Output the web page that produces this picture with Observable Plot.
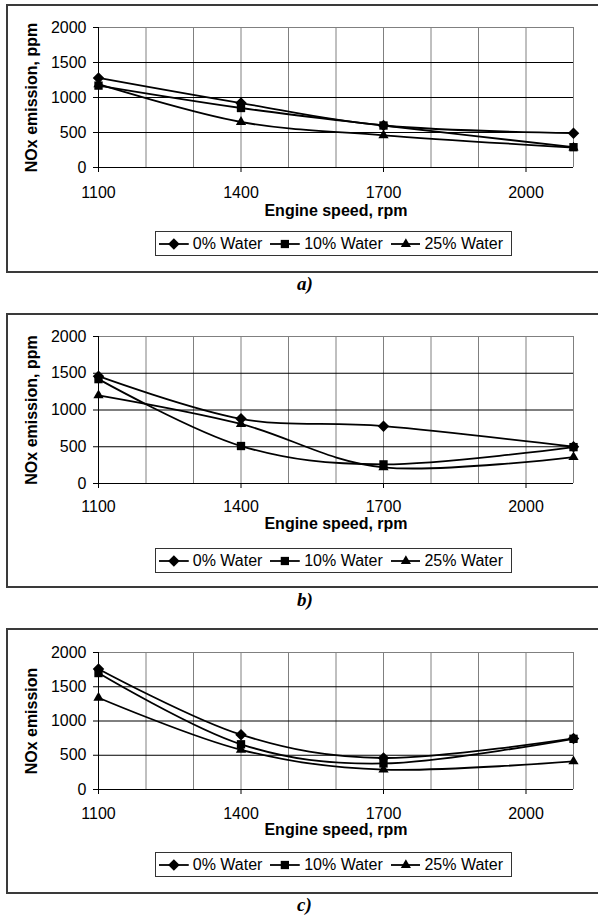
<!DOCTYPE html>
<html>
<head>
<meta charset="utf-8">
<script src="https://cdn.jsdelivr.net/npm/d3@7"></script>
<script src="https://cdn.jsdelivr.net/npm/@observablehq/plot@0.6"></script>
<style>
  body { margin: 0; background: #fff; }
  #root { position: relative; width: 598px; height: 916px; overflow: hidden; font-family: Arial, "Liberation Sans", sans-serif; color: #000; }
  .box { position: absolute; left: 6px; width: 640px; border: 2px solid #3a3a3a; box-sizing: border-box; }
  .chart { position: absolute; left: 0; }
  .legend { position: absolute; left: 155px; width: 357px; border: 1px solid #333; box-sizing: border-box; display: flex; align-items: center; font-size: 16px; padding-left: 3px; background: #fff; }
  .legend .key { width: 30px; height: 14px; display: block; }
  .legend .lab { margin-left: 4px; margin-right: 8px; white-space: nowrap; }
  .caption { position: absolute; left: 297px; font: bold italic 19px "Liberation Serif", "Times New Roman", serif; }
</style>
</head>
<body>
<div id="root"></div>
<script>
// ---------- data ----------
const speeds = [1100, 1400, 1700, 2100];
const seriesNames = ["0% Water", "10% Water", "25% Water"];
const xTicks = [1100, 1400, 1700, 2000];
const yTicks = [0, 500, 1000, 1500, 2000];
const xGrid = [1200, 1300, 1400, 1500, 1600, 1700, 1800, 1900, 2000, 2100];
const yGrid = [500, 1000, 1500];
const yTop = [2000];
const xTitle = "Engine speed, rpm";
const yTitles = ["NOx emission, ppm", "NOx emission, ppm", "NOx emission"];
const captions = ["a)", "b)", "c)"];

const a0 = [1280, 920, 600, 490];
const a10 = [1170, 850, 600, 290];
const a25 = [1190, 650, 460, 285];

const b0 = [1460, 880, 780, 500];
const b10 = [1420, 510, 260, 495];
const b25 = [1200, 810, 220, 360];

const c0 = [1760, 800, 460, 745];
const c10 = [1700, 660, 380, 740];
const c25 = [1340, 580, 290, 410];

// ---------- layout (page pixels) ----------
const layouts = [
  { boxTop: 4, boxBottom: 273, plotTop: 27, plotBottom: 167, tickPad: 14.5, titleDy: 48.5, legendTop: 231, legendH: 25, capTop: 273 },
  { boxTop: 313, boxBottom: 588, plotTop: 336, plotBottom: 483, tickPad: 12.5, titleDy: 45.5, legendTop: 548, legendH: 25, capTop: 589 },
  { boxTop: 628, boxBottom: 894, plotTop: 652, plotBottom: 789, tickPad: 13, titleDy: 45, legendTop: 852, legendH: 25, capTop: 894 }
];
const panelValues = [[a0, a10, a25], [b0, b10, b25], [c0, c10, c25]];

const symbols = [d3.symbolDiamond2, d3.symbolSquare, d3.symbolTriangle];
const radii = [5.2, 4.7, 3.8];

const root = document.getElementById("root");

function rows(vals) {
  const out = [];
  seriesNames.forEach((s, i) => speeds.forEach((sp, j) => out.push({ speed: sp, value: vals[i][j], series: s })));
  return out;
}

layouts.forEach((L, p) => {
  const box = document.createElement("div");
  box.className = "box";
  box.style.top = L.boxTop + "px";
  box.style.height = (L.boxBottom - L.boxTop) + "px";
  root.appendChild(box);

  const svgTop = L.boxTop + 2;
  const H = L.legendTop - 2 - svgTop;
  const data = rows(panelValues[p]);

  const marks = [
    Plot.ruleX(xGrid, { stroke: "#808080", strokeWidth: 1 }),
    Plot.ruleY(yTop, { stroke: "#808080", strokeWidth: 1 }),
    Plot.ruleY(yGrid, { stroke: "#000", strokeWidth: 1 }),
    Plot.ruleX([1100], { stroke: "#000", strokeWidth: 1 }),
    Plot.ruleY([0], { stroke: "#000", strokeWidth: 1 }),
    Plot.axisX({ ticks: xTicks, tickSize: 5, tickPadding: L.tickPad, label: null, fontSize: 16, tickFormat: d => String(d) }),
    Plot.axisY({ ticks: yTicks, tickSize: 5, tickPadding: 7, label: null, fontSize: 16, tickFormat: d => String(d) }),
    Plot.text([xTitle], { frameAnchor: "bottom", dy: L.titleDy, fontWeight: "bold", fontSize: 16, textAnchor: "middle" }),
    Plot.text([yTitles[p]], { frameAnchor: "left", dx: -67, rotate: -90, fontWeight: "bold", fontSize: 16, textAnchor: "middle" }),
    Plot.line(data, { x: "speed", y: "value", z: "series", curve: "cardinal", stroke: "#000", strokeWidth: 1.8 })
  ];
  seriesNames.forEach((s, i) => {
    marks.push(Plot.dot(data.filter(d => d.series === s), { x: "speed", y: "value", symbol: symbols[i], r: radii[i], fill: "#000", stroke: "none" }));
  });

  const chart = Plot.plot({
    width: 598,
    height: H,
    marginLeft: 98,
    marginRight: 25,
    marginTop: L.plotTop - svgTop,
    marginBottom: svgTop + H - L.plotBottom,
    x: { domain: [1100, 2100], label: null },
    y: { domain: [0, 2000], label: null },
    style: { fontFamily: "Arial, 'Liberation Sans', sans-serif", fontSize: "16px", color: "#000", background: "transparent", overflow: "visible" },
    marks
  });
  chart.classList.add("chart");
  chart.style.position = "absolute";
  chart.style.top = svgTop + "px";
  chart.style.left = "0px";
  root.appendChild(chart);

  // legend
  const leg = document.createElement("div");
  leg.className = "legend";
  leg.style.top = L.legendTop + "px";
  leg.style.height = L.legendH + "px";
  seriesNames.forEach((s, i) => {
    const svg = d3.create("svg").attr("class", "key").attr("width", 30).attr("height", 14).attr("viewBox", "0 0 30 14");
    svg.append("line").attr("x1", 0).attr("x2", 30).attr("y1", 7).attr("y2", 7).attr("stroke", "#000").attr("stroke-width", 1.8);
    svg.append("path").attr("transform", "translate(15,7)").attr("d", d3.symbol().type(symbols[i]).size(Math.PI * radii[i] * radii[i])()).attr("fill", "#000");
    leg.appendChild(svg.node());
    const t = document.createElement("span");
    t.className = "lab";
    t.textContent = s;
    leg.appendChild(t);
  });
  root.appendChild(leg);

  const cap = document.createElement("div");
  cap.className = "caption";
  cap.style.top = L.capTop + "px";
  cap.textContent = captions[p];
  root.appendChild(cap);
});
</script>
</body>
</html>
